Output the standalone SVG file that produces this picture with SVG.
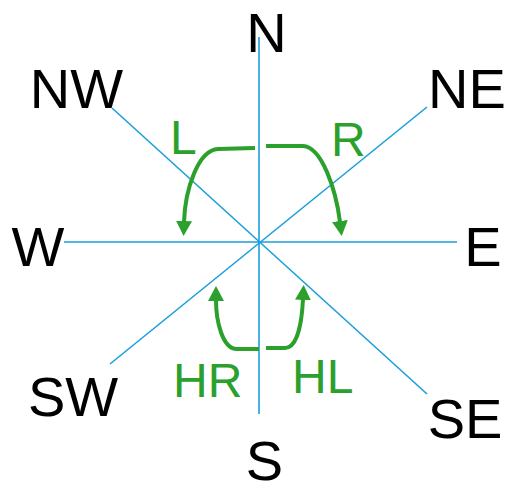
<svg xmlns="http://www.w3.org/2000/svg" width="507" height="491" viewBox="0 0 507 491">
<style>
.ax{stroke:#1a9fdc;stroke-width:1.6;fill:none}
.lbl{font-family:"Liberation Sans",Arial,sans-serif;font-size:56px;fill:#000;text-anchor:middle}
.g{font-family:"Liberation Sans",Arial,sans-serif;font-size:48px;fill:#2ca02c}
.arr{stroke:#2ca02c;stroke-width:4;fill:none;marker-end:url(#ah)}
</style>
<defs>
<marker id="ah" markerUnits="userSpaceOnUse" viewBox="0 0 15 16" refX="1" refY="8" markerWidth="15" markerHeight="16" orient="auto">
<path d="M0,0 L15,8 L0,16 z" fill="#2ca02c"/>
</marker>
</defs>
<rect width="507" height="491" fill="#fff"/>
<g id="axes">
<line class="ax" x1="259" y1="37" x2="259" y2="414"/>
<line class="ax" x1="64" y1="242" x2="457" y2="242"/>
<line class="ax" x1="112" y1="108" x2="427" y2="394"/>
<line class="ax" x1="427" y1="107" x2="110" y2="364"/>
</g>
<g id="labels">
<g id="N"><text class="lbl" x="266.5" y="52">N</text></g>
<g id="NW"><text class="lbl" x="76.5" y="108">NW</text></g>
<g id="NE"><text class="lbl" x="467" y="108">NE</text></g>
<g id="W"><text class="lbl" x="38" y="266">W</text></g>
<g id="E"><text class="lbl" x="483" y="266">E</text></g>
<g id="SW"><text class="lbl" x="73" y="416">SW</text></g>
<g id="SE"><text class="lbl" x="465" y="438">SE</text></g>
<g id="S"><text class="lbl" x="264.5" y="480">S</text></g>
</g>
<g id="connectors">
<path class="arr" d="M255,148 L218,149 C198,150 185,190 184,222"/>
<path class="arr" d="M266,146 L303,146 C322,147 336,190 340,222"/>
<path class="arr" d="M259,349 L237,349 C222,349 216,320 216,300"/>
<path class="arr" d="M266,348 L285,348 C298,348 302,320 303,299"/>
</g>
<g id="turn-labels">
<g id="L"><text class="g" x="170" y="154">L</text></g>
<g id="R"><text class="g" x="331" y="156">R</text></g>
<g id="HR"><text class="g" x="173" y="397">HR</text></g>
<g id="HL"><text class="g" x="292" y="393">HL</text></g>
</g>
</svg>
